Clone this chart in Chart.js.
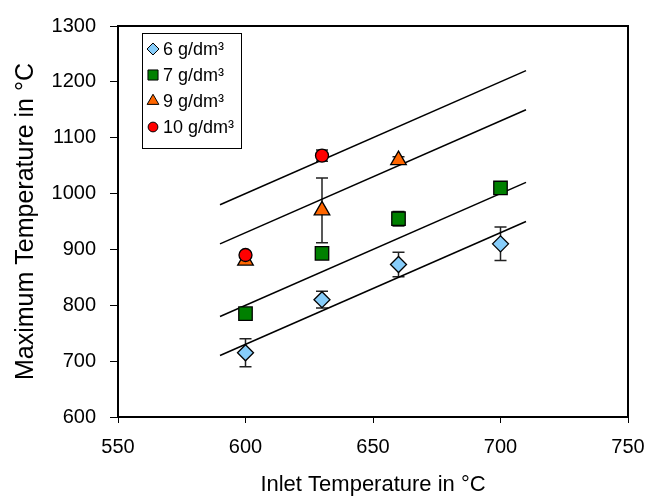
<!DOCTYPE html>
<html>
<head>
<meta charset="utf-8">
<script src="https://cdn.jsdelivr.net/npm/chart.js@4/dist/chart.umd.min.js"></script>
<style>
  html, body { margin: 0; padding: 0; background: #fff; }
  #wrap { width: 665px; height: 498px; }
</style>
</head>
<body>
<div id="wrap"><canvas id="chart" width="665" height="498"></canvas></div>
<script>
// measured points (x = inlet temperature, y = max temperature)
const inlet6 = [600, 630, 660, 700];
const temp6 = [715, 810, 873, 910];
const err6 = [25, 15, 22, 30];

const inlet7 = [600, 630, 660, 700];
const temp7 = [785, 893, 955, 1010];
const err7 = [0, 0, 13, 0];

const inlet9 = [600, 630, 660];
const temp9 = [880, 970, 1060];
const err9 = [0, 58, 6];

const inlet10 = [600, 630];
const temp10 = [890, 1068];
const err10 = [0, 10];

// straight trend lines
const fitX = [590, 710];
const fit10 = [980, 1220];
const fit9 = [910, 1150];
const fit7 = [780, 1020];
const fit6 = [710, 950];

const seriesLabels = ["6 g/dm³", "7 g/dm³", "9 g/dm³", "10 g/dm³"];
const xTicks = [550, 600, 650, 700, 750];
const yTicks = [600, 700, 800, 900, 1000, 1100, 1200, 1300];

const FONT = "'Liberation Sans', Arial, sans-serif";

function pts(xs, ys) {
  return xs.map((x, i) => ({ x: x, y: ys[i] }));
}

function markerSet(label, xs, ys, errs, style, color, radius, order) {
  return {
    label: label,
    data: pts(xs, ys),
    errs: errs,
    showLine: false,
    pointStyle: style,
    pointRadius: radius,
    pointHoverRadius: radius,
    pointBackgroundColor: color,
    pointBorderColor: "#000",
    pointBorderWidth: 1.3,
    legendRadius: radius * 0.75,
    order: order,
  };
}

function lineSet(ys) {
  return {
    data: pts(fitX, ys),
    showLine: true,
    borderColor: "#000",
    borderWidth: 1.5,
    pointRadius: 0,
    fill: false,
    isFit: true,
    order: 10,
  };
}

const errorBars = {
  id: "errorBars",
  beforeDatasetsDraw(chart) {
    const { ctx, scales } = chart;
    ctx.save();
    ctx.strokeStyle = "#222";
    ctx.lineWidth = 1.5;
    chart.data.datasets.forEach((ds) => {
      if (!ds.errs) return;
      ds.data.forEach((p, i) => {
        const e = ds.errs[i];
        if (!e) return;
        const x = scales.x.getPixelForValue(p.x);
        const yTop = scales.y.getPixelForValue(p.y + e);
        const yBot = scales.y.getPixelForValue(p.y - e);
        ctx.beginPath();
        ctx.moveTo(x, yTop); ctx.lineTo(x, yBot);
        ctx.moveTo(x - 6, yTop); ctx.lineTo(x + 6, yTop);
        ctx.moveTo(x - 6, yBot); ctx.lineTo(x + 6, yBot);
        ctx.stroke();
      });
    });
    ctx.restore();
  },
};

function drawShape(ctx, style, r, x, y) {
  if (style === "rectRot") {
    ctx.moveTo(x, y - r); ctx.lineTo(x + r, y); ctx.lineTo(x, y + r); ctx.lineTo(x - r, y); ctx.closePath();
  } else if (style === "rect") {
    const s = r * Math.SQRT1_2;
    ctx.rect(x - s, y - s, 2 * s, 2 * s);
  } else if (style === "triangle") {
    const w = r * 0.866;
    ctx.moveTo(x, y - r); ctx.lineTo(x + w, y + r * 0.5); ctx.lineTo(x - w, y + r * 0.5); ctx.closePath();
  } else {
    ctx.arc(x, y, r, 0, Math.PI * 2);
  }
}

const frameAndLegend = {
  id: "frameAndLegend",
  afterDraw(chart) {
    const { ctx, chartArea } = chart;
    ctx.save();
    // box round the plot
    ctx.strokeStyle = "#000";
    ctx.lineWidth = 2;
    ctx.strokeRect(chartArea.left, chartArea.top, chartArea.right - chartArea.left, chartArea.bottom - chartArea.top);

    // legend box
    const bx = 142, by = 33, bw = 99, bh = 115;
    ctx.fillStyle = "#fff";
    ctx.fillRect(bx, by, bw, bh);
    ctx.lineWidth = 1;
    ctx.strokeRect(bx + 0.5, by + 0.5, bw, bh);

    const markers = chart.data.datasets.filter((d) => !d.isFit);
    ctx.font = "18px " + FONT;
    ctx.textBaseline = "middle";
    ctx.textAlign = "left";
    markers.forEach((ds, row) => {
      const cy = by + 16 + row * 26;
      ctx.fillStyle = ds.pointBackgroundColor;
      ctx.strokeStyle = "#000";
      ctx.lineWidth = 1;
      ctx.beginPath();
      drawShape(ctx, ds.pointStyle, ds.legendRadius, bx + 11, cy);
      ctx.fill();
      ctx.stroke();
      ctx.fillStyle = "#000";
      ctx.fillText(ds.label, bx + 21, cy + 1);
    });
    ctx.restore();
  },
};

new Chart(document.getElementById("chart"), {
  type: "scatter",
  data: {
    datasets: [
      markerSet(seriesLabels[0], inlet6, temp6, err6, "rectRot", "#87cdfa", 8, 4),
      markerSet(seriesLabels[1], inlet7, temp7, err7, "rect", "#008000", 9.5, 3),
      markerSet(seriesLabels[2], inlet9, temp9, err9, "triangle", "#ff6600", 9, 2),
      markerSet(seriesLabels[3], inlet10, temp10, err10, "circle", "#ff0000", 6.5, 1),
      lineSet(fit10),
      lineSet(fit9),
      lineSet(fit7),
      lineSet(fit6),
    ],
  },
  options: {
    responsive: false,
    animation: false,
    devicePixelRatio: 1,
    layout: { padding: { left: 0, top: 17, right: 37, bottom: 0 } },
    plugins: { legend: { display: false }, tooltip: { enabled: false } },
    scales: {
      x: {
        type: "linear",
        min: 550,
        max: 750,
        afterBuildTicks: (s) => { s.ticks = xTicks.map((v) => ({ value: v })); },
        afterFit: (s) => { s.height = 81; },
        grid: { display: true, drawOnChartArea: false, drawTicks: true, tickLength: 6, color: "#000", lineWidth: 1 },
        border: { color: "#000", width: 2 },
        ticks: { color: "#000", font: { family: FONT, size: 20 }, padding: 12, maxRotation: 0, callback: (v) => String(v) },
        title: { display: true, text: "Inlet Temperature in °C", color: "#000", font: { family: FONT, size: 22 }, padding: { top: 0, bottom: 0 } },
      },
      y: {
        type: "linear",
        min: 600,
        max: 1300,
        afterBuildTicks: (s) => { s.ticks = yTicks.map((v) => ({ value: v })); },
        afterFit: (s) => { s.width = 118; },
        grid: { display: true, drawOnChartArea: false, drawTicks: true, tickLength: 8, color: "#000", lineWidth: 1 },
        border: { color: "#000", width: 2 },
        ticks: { color: "#000", font: { family: FONT, size: 20 }, padding: 14, callback: (v) => String(v) },
        title: { display: true, text: "Maximum Temperature in °C", color: "#000", font: { family: FONT, size: 25 }, padding: { top: 11, bottom: 11 } },
      },
    },
  },
  plugins: [errorBars, frameAndLegend],
});
</script>
</body>
</html>
